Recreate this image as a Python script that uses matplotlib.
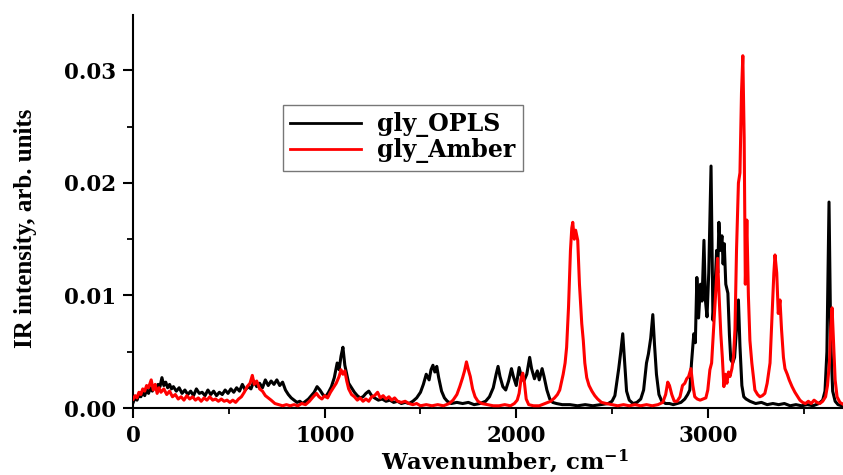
import matplotlib
matplotlib.use("Agg")
import matplotlib.pyplot as plt
from matplotlib.ticker import MultipleLocator

# ---- data ----
opls_wn = [0, 10, 20, 30, 40, 50, 60, 70, 80, 90, 100, 110, 120, 130, 140, 150, 160, 170, 180, 190,
           200, 210, 225, 240, 255, 270, 285, 300, 315, 330, 345, 360, 375, 390, 405, 420, 435, 450,
           465, 480, 495, 510, 525, 540, 555, 570, 585, 600, 615, 630, 645, 660, 675, 690, 705, 720,
           735, 750, 765, 780, 795, 810, 825, 840, 855, 870, 885, 900, 915, 930, 945, 960, 975, 990,
           1005, 1020, 1035, 1050, 1065, 1075, 1085, 1095, 1105, 1115, 1125, 1140, 1155, 1170, 1185,
           1200, 1215, 1230, 1245, 1260, 1280, 1300, 1320, 1340, 1360, 1380, 1400, 1420, 1440, 1460,
           1480, 1500, 1515, 1530, 1545, 1555, 1565, 1575, 1585, 1595, 1610, 1625, 1640, 1660, 1690,
           1720, 1750, 1780, 1810, 1840, 1860, 1880, 1895, 1905, 1915, 1930, 1945, 1960, 1975, 1985,
           2000, 2015, 2025, 2040, 2055, 2070, 2080, 2095, 2110, 2120, 2135, 2145, 2160, 2175, 2190,
           2210, 2240, 2280, 2320, 2360, 2400, 2440, 2480, 2500, 2515, 2525, 2535, 2545, 2556, 2566,
           2576, 2590, 2610, 2630, 2650, 2665, 2680, 2690, 2702, 2713, 2722, 2732, 2745, 2760, 2780,
           2800, 2820, 2840, 2860, 2880, 2895, 2906, 2915, 2927, 2935, 2943, 2952, 2962, 2970, 2980,
           2988, 2996, 3005, 3017, 3027, 3036, 3046, 3052, 3058, 3066, 3074, 3080, 3086, 3094, 3105,
           3113, 3120, 3130, 3140, 3150, 3160, 3168, 3178, 3188, 3200, 3220, 3250, 3280, 3310, 3340,
           3370, 3400, 3430, 3460, 3490, 3520, 3550, 3580, 3600, 3612, 3622, 3633, 3642, 3652, 3665,
           3680, 3700, 3710]
opls_int = [0.0005, 0.0009, 0.0007, 0.0012, 0.0010, 0.0014, 0.0011, 0.0016, 0.0013, 0.0018, 0.0015,
            0.0019, 0.0017, 0.0021, 0.0019, 0.0027, 0.0020, 0.0023, 0.0018, 0.0021, 0.0017, 0.0019,
            0.0015, 0.0018, 0.0013, 0.0016, 0.0012, 0.0015, 0.0011, 0.0017, 0.0013, 0.0014, 0.0011,
            0.0016, 0.0012, 0.0015, 0.0011, 0.0014, 0.0012, 0.0016, 0.0013, 0.0017, 0.0014, 0.0018,
            0.0015, 0.0021, 0.0016, 0.0019, 0.0017, 0.0024, 0.0019, 0.0022, 0.0018, 0.0025, 0.0020,
            0.0024, 0.0021, 0.0025, 0.0020, 0.0023, 0.0016, 0.0012, 0.0009, 0.0007, 0.0005, 0.0006,
            0.0004, 0.0006, 0.0008, 0.0011, 0.0014, 0.0019, 0.0016, 0.0012, 0.0010, 0.0014, 0.0019,
            0.0027, 0.0040, 0.0034, 0.0046, 0.0054, 0.0038, 0.0030, 0.0022, 0.0018, 0.0014, 0.0011,
            0.0009, 0.0010, 0.0013, 0.0015, 0.0011, 0.0009, 0.0007, 0.0008, 0.0006, 0.0007, 0.0005,
            0.0006, 0.0004, 0.0005, 0.0004, 0.0006, 0.0009, 0.0014, 0.0021, 0.0030, 0.0025, 0.0034,
            0.0038, 0.0032, 0.0037, 0.0027, 0.0015, 0.0009, 0.0006, 0.0004, 0.0005, 0.0004, 0.0005,
            0.0003, 0.0004, 0.0006, 0.0010, 0.0018, 0.0030, 0.0037, 0.0028, 0.0019, 0.0016, 0.0024,
            0.0035, 0.0028, 0.0020, 0.0036, 0.0029, 0.0024, 0.0030, 0.0045, 0.0035, 0.0026, 0.0033,
            0.0025, 0.0035, 0.0028, 0.0016, 0.0008, 0.0005, 0.0004, 0.0003, 0.0003, 0.0002, 0.0003,
            0.0002, 0.0003, 0.0004, 0.0006, 0.0011, 0.0023, 0.0035, 0.0049, 0.0066, 0.0040, 0.0015,
            0.0007, 0.0004, 0.0005, 0.0008, 0.0016, 0.0040, 0.0048, 0.0062, 0.0083, 0.0056, 0.0030,
            0.0012, 0.0006, 0.0004, 0.0004, 0.0003, 0.0004, 0.0005, 0.0008, 0.0012, 0.0016, 0.0040,
            0.0066, 0.0058, 0.0116, 0.0080, 0.0110, 0.0095, 0.0149, 0.0095, 0.0081, 0.0120, 0.0215,
            0.0078, 0.0100, 0.0140, 0.0120, 0.0165, 0.0140, 0.0153, 0.0128, 0.0146, 0.0110, 0.0102,
            0.0065, 0.0043, 0.0040, 0.0045, 0.0070, 0.0096, 0.0055, 0.0020, 0.0010, 0.0008, 0.0006,
            0.0004, 0.0005, 0.0003, 0.0004, 0.0003, 0.0004, 0.0002, 0.0003, 0.0002, 0.0003, 0.0002,
            0.0004, 0.0007, 0.0015, 0.0050, 0.0183, 0.0060, 0.0015, 0.0006, 0.0003, 0.0002, 0.0002]

amber_wn = [0, 10, 20, 30, 40, 50, 60, 70, 80, 94, 105, 115, 125, 135, 145, 160, 175, 190, 205, 220,
            235, 250, 265, 280, 295, 310, 325, 340, 355, 370, 385, 400, 415, 430, 445, 460, 475, 490,
            505, 520, 535, 550, 565, 580, 595, 610, 622, 632, 645, 660, 675, 690, 705, 720, 740, 760,
            780, 800, 820, 840, 860, 880, 900, 920, 940, 957, 970, 985, 1000, 1015, 1030, 1045, 1060,
            1075, 1085, 1095, 1105, 1115, 1125, 1140, 1155, 1170, 1185, 1200, 1215, 1230, 1245, 1260,
            1276, 1290, 1305, 1320, 1335, 1350, 1365, 1380, 1400, 1420, 1440, 1460, 1480, 1500, 1530,
            1560, 1590, 1620, 1650, 1670, 1690, 1705, 1720, 1730, 1740, 1750, 1760, 1772, 1785, 1800,
            1820, 1850, 1880, 1910, 1940, 1970, 1990, 2005, 2015, 2025, 2034, 2043, 2052, 2065, 2090,
            2120, 2150, 2180, 2200, 2215, 2227, 2245, 2255, 2263, 2273, 2283, 2290, 2295, 2303, 2310,
            2321, 2330, 2342, 2350, 2358, 2368, 2380, 2395, 2410, 2425, 2445, 2470, 2500, 2530, 2560,
            2590, 2620, 2650, 2680, 2710, 2740, 2765, 2780, 2791, 2800, 2812, 2825, 2840, 2855, 2868,
            2880, 2890, 2900, 2912, 2922, 2932, 2945, 2960, 2975, 2990, 3000, 3011, 3020, 3030, 3037,
            3044, 3051, 3059, 3068, 3076, 3084, 3092, 3100, 3108, 3116, 3126, 3134, 3142, 3150, 3160,
            3168, 3176, 3183, 3190, 3196, 3204, 3212, 3220, 3230, 3246, 3260, 3272, 3285, 3298, 3310,
            3325, 3335, 3345, 3351, 3360, 3368, 3377, 3385, 3395, 3403, 3415, 3425, 3440, 3455, 3470,
            3481, 3495, 3510, 3525, 3540, 3555, 3570, 3585, 3600, 3615, 3625, 3635, 3642, 3649, 3656,
            3665, 3675, 3690, 3710]
amber_int = [0.0008, 0.0011, 0.0009, 0.0014, 0.0012, 0.0017, 0.0015, 0.0020, 0.0018, 0.0025, 0.0016,
             0.0021, 0.0013, 0.0018, 0.0014, 0.0017, 0.0012, 0.0015, 0.0010, 0.0012, 0.0008, 0.0010,
             0.0007, 0.0011, 0.0008, 0.0010, 0.0007, 0.0009, 0.0006, 0.0009, 0.0007, 0.0010, 0.0007,
             0.0008, 0.0006, 0.0008, 0.0006, 0.0007, 0.0005, 0.0007, 0.0005, 0.0008, 0.0010, 0.0014,
             0.0019, 0.0022, 0.0029, 0.0021, 0.0024, 0.0017, 0.0015, 0.0011, 0.0009, 0.0007, 0.0004,
             0.0003, 0.0002, 0.0003, 0.0002, 0.0003, 0.0002, 0.0004, 0.0003, 0.0006, 0.0010, 0.0013,
             0.0010, 0.0008, 0.0011, 0.0009, 0.0014, 0.0018, 0.0022, 0.0028, 0.0034, 0.0030, 0.0033,
             0.0024, 0.0017, 0.0012, 0.0010, 0.0007, 0.0009, 0.0006, 0.0008, 0.0006, 0.0010, 0.0011,
             0.0014, 0.0009, 0.0011, 0.0008, 0.0010, 0.0007, 0.0009, 0.0006, 0.0005, 0.0006, 0.0004,
             0.0003, 0.0004, 0.0002, 0.0003, 0.0002, 0.0003, 0.0002, 0.0004, 0.0007, 0.0012, 0.0019,
             0.0027, 0.0033, 0.0041, 0.0034, 0.0028, 0.0017, 0.0010, 0.0006, 0.0004, 0.0003, 0.0002,
             0.0002, 0.0003, 0.0002, 0.0004, 0.0007, 0.0013, 0.0026, 0.0031, 0.0022, 0.0008, 0.0003,
             0.0002, 0.0002, 0.0004, 0.0006, 0.0009, 0.0012, 0.0016, 0.0030, 0.0040, 0.0054, 0.0090,
             0.0140, 0.0160, 0.0165, 0.0150, 0.0158, 0.0149, 0.0110, 0.0075, 0.0060, 0.0040, 0.0027,
             0.0020, 0.0015, 0.0011, 0.0008, 0.0005, 0.0004, 0.0003, 0.0002, 0.0003, 0.0002, 0.0003,
             0.0002, 0.0003, 0.0002, 0.0003, 0.0005, 0.0012, 0.0023, 0.0020, 0.0012, 0.0006, 0.0006,
             0.0010, 0.0020, 0.0022, 0.0026, 0.0028, 0.0035, 0.0020, 0.0010, 0.0008, 0.0007, 0.0008,
             0.0009, 0.0016, 0.0034, 0.0040, 0.0070, 0.0090, 0.0110, 0.0133, 0.0100, 0.0066, 0.0045,
             0.0019, 0.0030, 0.0022, 0.0032, 0.0028, 0.0035, 0.0045, 0.0070, 0.0140, 0.0200, 0.0209,
             0.0280, 0.0313, 0.0240, 0.0110, 0.0167, 0.0100, 0.0060, 0.0040, 0.0016, 0.0012, 0.0010,
             0.0011, 0.0013, 0.0022, 0.0040, 0.0080, 0.0120, 0.0136, 0.0120, 0.0084, 0.0096, 0.0070,
             0.0045, 0.0035, 0.0030, 0.0025, 0.0019, 0.0014, 0.0010, 0.0007, 0.0005, 0.0004, 0.0006,
             0.0004, 0.0007, 0.0005, 0.0004, 0.0006, 0.0010, 0.0020, 0.0040, 0.0070, 0.0089, 0.0060,
             0.0025, 0.0010, 0.0005, 0.0003]

series_names = ["gly_OPLS", "gly_Amber"]
x_ticks = [0, 1000, 2000, 3000]
y_ticks = [0.00, 0.01, 0.02, 0.03]

# ---- figure ----
plt.rcParams['font.family'] = ['DejaVu Serif']
plt.rcParams['font.weight'] = 'bold'
plt.rcParams['mathtext.fontset'] = 'dejavuserif'

fig = plt.figure(figsize=(8.43, 4.75), dpi=100)
ax = fig.add_axes([0.158, 0.141, 0.842, 0.827])

ax.plot(opls_wn, opls_int, color='black', lw=2.2, label=series_names[0], zorder=2)
ax.plot(amber_wn, amber_int, color='#ff0000', lw=2.2, label=series_names[1], zorder=3)

ax.set_xlim(0, 3706)
ax.set_ylim(0, 0.0349)
ax.set_xticks(x_ticks)
ax.set_yticks(y_ticks)
ax.set_xticklabels([str(t) for t in x_ticks])
ax.set_yticklabels([f"{t:.2f}" for t in y_ticks])
ax.xaxis.set_minor_locator(MultipleLocator(500))
ax.yaxis.set_minor_locator(MultipleLocator(0.005))

for s in ['top', 'right']:
    ax.spines[s].set_visible(False)
for s in ['left', 'bottom']:
    ax.spines[s].set_linewidth(1.5)

ax.tick_params(which='major', direction='out', length=7, width=1.5, labelsize=15.5, pad=5)
ax.tick_params(which='minor', direction='out', length=4, width=1.3)
for lab in ax.get_xticklabels() + ax.get_yticklabels():
    lab.set_fontweight('bold')

ax.set_ylabel("IR intensity, arb. units", fontsize=18, fontweight='bold',
              family='Liberation Serif')
ax.yaxis.set_label_coords(-0.135, 0.458)
ax.set_xlabel("Wavenumber, cm$^{\\mathbf{-1}}$", fontsize=16.5, fontweight='bold')
ax.xaxis.set_label_coords(0.524, -0.1)

leg = ax.legend(loc='upper left', bbox_to_anchor=(0.211, 0.771), borderaxespad=0,
                frameon=True, fancybox=False, framealpha=1, edgecolor='#777777',
                prop={'family': 'DejaVu Serif', 'weight': 'bold', 'size': 17},
                handlelength=3.0, handletextpad=0.7, borderpad=0.3, labelspacing=0.05)
leg.get_frame().set_linewidth(1.0)
for line in leg.get_lines():
    line.set_linewidth(2.0)

fig.savefig("out.png", dpi=100)
